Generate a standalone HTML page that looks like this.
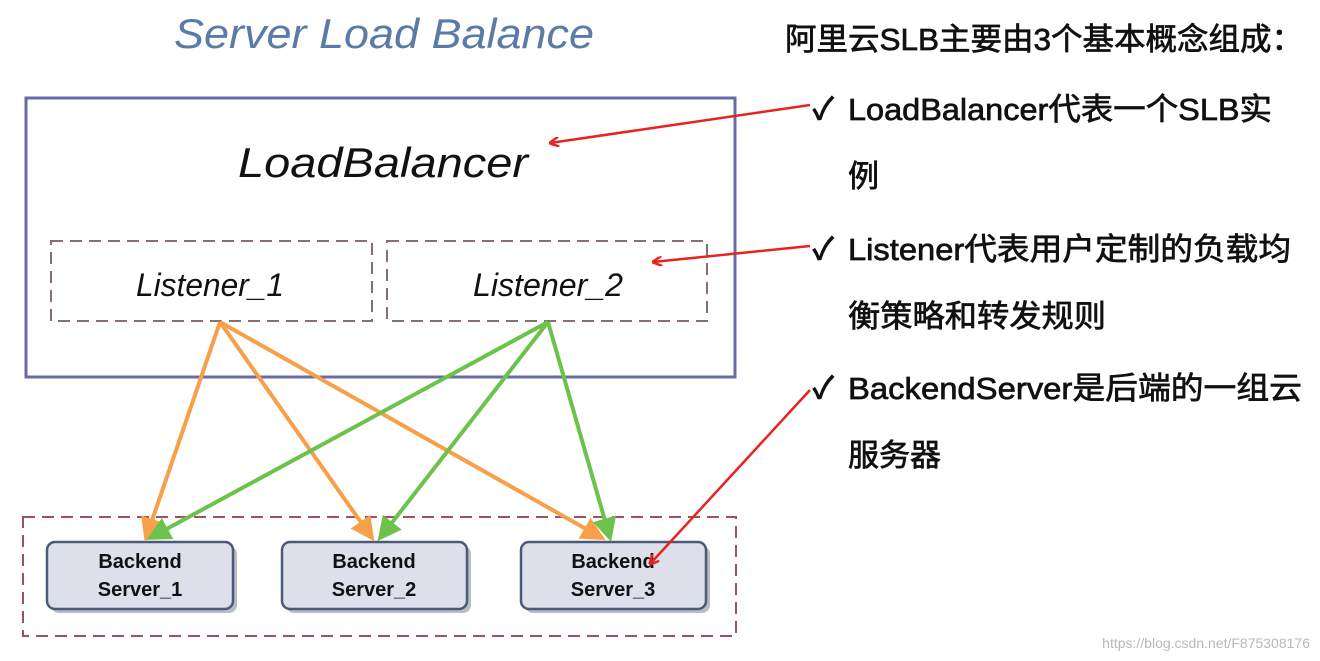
<!DOCTYPE html>
<html><head><meta charset="utf-8"><style>html,body{margin:0;padding:0;background:#fff}svg{display:block}</style></head>
<body>
<svg width="1320" height="661" viewBox="0 0 1320 661" xmlns="http://www.w3.org/2000/svg">
<defs>
<marker id="ao" markerWidth="6" markerHeight="6" refX="5" refY="3" orient="auto" markerUnits="strokeWidth"><path d="M0,0 L6,3 L0,6 z" fill="#f7a04a"/></marker>
<marker id="ag" markerWidth="6" markerHeight="6" refX="5" refY="3" orient="auto" markerUnits="strokeWidth"><path d="M0,0 L6,3 L0,6 z" fill="#6cc24a"/></marker>
<marker id="ar" markerWidth="10" markerHeight="10" refX="9" refY="5" orient="auto" markerUnits="userSpaceOnUse"><path d="M0,0 L10,5 L0,10" fill="none" stroke="#e8231f" stroke-width="2.5"/></marker>
</defs>
<rect width="1320" height="661" fill="#fff"/>
<text x="384" y="48" text-anchor="middle" font-family="Liberation Sans, sans-serif" font-style="italic" font-size="42" fill="#5a7aa8" textLength="420" lengthAdjust="spacingAndGlyphs">Server Load Balance</text>
<rect x="26" y="98" width="709" height="279" fill="none" stroke="#6a6aa8" stroke-width="3"/>
<text x="383" y="177" text-anchor="middle" font-family="Liberation Sans, sans-serif" font-style="italic" font-size="42" fill="#111" textLength="290" lengthAdjust="spacingAndGlyphs">LoadBalancer</text>
<rect x="51" y="241" width="321" height="80" fill="none" stroke="#857070" stroke-width="2" stroke-dasharray="12,7"/>
<rect x="387" y="241" width="320" height="80" fill="none" stroke="#857070" stroke-width="2" stroke-dasharray="12,7"/>
<text x="210" y="296" text-anchor="middle" font-family="Liberation Sans, sans-serif" font-style="italic" font-size="32" fill="#111" textLength="148" lengthAdjust="spacingAndGlyphs">Listener_1</text>
<text x="548" y="296" text-anchor="middle" font-family="Liberation Sans, sans-serif" font-style="italic" font-size="32" fill="#111" textLength="150" lengthAdjust="spacingAndGlyphs">Listener_2</text>
<rect x="23" y="517" width="713" height="119" fill="none" stroke="#a05060" stroke-width="2" stroke-dasharray="12,7"/>
<g fill="#b8bcc8">
<rect x="51" y="546" width="186" height="67" rx="8"/>
<rect x="286" y="546" width="185" height="67" rx="8"/>
<rect x="525" y="546" width="185" height="67" rx="8"/>
</g>
<g fill="#dde0ea" stroke="#4a5a78" stroke-width="2.5">
<rect x="47" y="542" width="186" height="67" rx="8"/>
<rect x="282" y="542" width="185" height="67" rx="8"/>
<rect x="521" y="542" width="185" height="67" rx="8"/>
</g>
<g font-family="Liberation Sans, sans-serif" font-weight="bold" font-size="20" fill="#111" text-anchor="middle">
<text x="140" y="568">Backend</text><text x="140" y="596">Server_1</text>
<text x="374" y="568">Backend</text><text x="374" y="596">Server_2</text>
<text x="613" y="568">Backend</text><text x="613" y="596">Server_3</text>
</g>
<g stroke="#f7a04a" stroke-width="4" fill="none">
<line x1="220" y1="322" x2="146" y2="538" marker-end="url(#ao)"/>
<line x1="220" y1="322" x2="372" y2="538" marker-end="url(#ao)"/>
<line x1="220" y1="322" x2="602" y2="538" marker-end="url(#ao)"/>
</g>
<g stroke="#6cc24a" stroke-width="4" fill="none">
<line x1="548" y1="322" x2="150" y2="538" marker-end="url(#ag)"/>
<line x1="548" y1="322" x2="380" y2="538" marker-end="url(#ag)"/>
<line x1="548" y1="322" x2="610" y2="538" marker-end="url(#ag)"/>
</g>
<g stroke="#e8231f" stroke-width="2.5" fill="none">
<line x1="810" y1="105" x2="550" y2="143" marker-end="url(#ar)"/>
<line x1="810" y1="246" x2="653" y2="262" marker-end="url(#ar)"/>
<line x1="810" y1="390" x2="650" y2="564" marker-end="url(#ar)"/>
</g>
<g font-family="Liberation Sans, 'Noto Sans CJK SC', sans-serif" font-size="31" fill="#111" stroke="#111" stroke-width="0.7">
<text x="785" y="50" textLength="518" lengthAdjust="spacingAndGlyphs">阿里云SLB主要由3个基本概念组成：</text>
<text x="813" y="119" font-size="30" stroke-width="1.2">✓</text>
<text x="848" y="120" textLength="424" lengthAdjust="spacingAndGlyphs">LoadBalancer代表一个SLB实</text>
<text x="848" y="187">例</text>
<text x="813" y="259" font-size="30" stroke-width="1.2">✓</text>
<text x="848" y="260" textLength="443" lengthAdjust="spacingAndGlyphs">Listener代表用户定制的负载均</text>
<text x="848" y="327" textLength="258" lengthAdjust="spacingAndGlyphs">衡策略和转发规则</text>
<text x="813" y="398" font-size="30" stroke-width="1.2">✓</text>
<text x="848" y="399" textLength="454" lengthAdjust="spacingAndGlyphs">BackendServer是后端的一组云</text>
<text x="848" y="466">服务器</text>
</g>
<text x="1310" y="648" text-anchor="end" font-family="Liberation Sans, sans-serif" font-size="14" fill="#b8b8b8">https://blog.csdn.net/F875308176</text>
</svg>
</body></html>
